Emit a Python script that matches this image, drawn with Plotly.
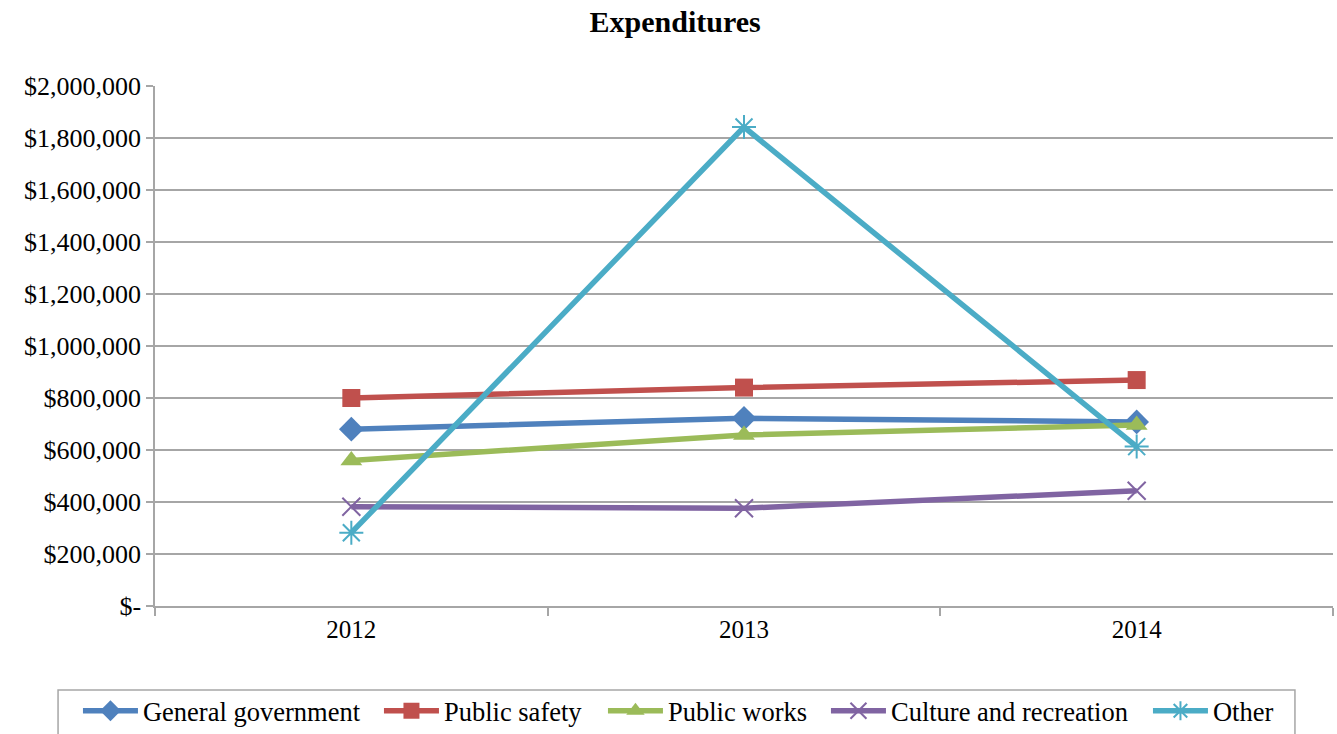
import plotly.graph_objects as go

# Fiscal years and expenditure by function (USD)
years = ["2012", "2013", "2014"]
general_government = [680000, 722000, 708000]
public_safety = [800000, 840000, 869000]
public_works = [560000, 658000, 696000]
culture_recreation = [382000, 376000, 443000]
other = [282000, 1842000, 613000]

y_ticks = [0, 200000, 400000, 600000, 800000, 1000000, 1200000,
           1400000, 1600000, 1800000, 2000000]
y_tick_text = ["$-"] + ["${:,}".format(v) for v in y_ticks[1:]]

# name, values, colour, marker symbol, marker size, legend text width
series = [
    ("General government", general_government, "#4F81BD", "diamond", 19, 231),
    ("Public safety", public_safety, "#C0504D", "square", 18, 154),
    ("Public works", public_works, "#9BBB59", "triangle-up", 19, 153),
    ("Culture and recreation", culture_recreation, "#8064A2", "x-thin-open", 18, 252),
    ("Other", other, "#4BACC6", "asterisk-open", 20, 64),
]

serif = "Liberation Serif"

fig = go.Figure()
for name, vals, color, symbol, size, lw in series:
    open_sym = symbol.endswith("open")
    fig.add_trace(go.Scatter(
        x=years, y=vals, name=name, mode="lines+markers",
        line=dict(color=color, width=5.5),
        marker=dict(symbol=symbol, size=size, color=color,
                    line=dict(color=color, width=2 if open_sym else 0)),
        legendwidth=lw,
    ))

# legend frame, open at the bottom edge of the page
fig.add_shape(type="rect", xref="paper", yref="paper",
              x0=-0.0823, x1=0.9677, y0=-0.1615, y1=-0.35,
              line=dict(color="#A6A6A6", width=1.5), fillcolor="rgba(0,0,0,0)",
              layer="below")

fig.update_layout(
    width=1337, height=734,
    margin=dict(l=155, r=4, t=86, b=128, autoexpand=False),
    paper_bgcolor="white", plot_bgcolor="white",
    title=dict(text="<b>Expenditures</b>", x=0.505, xref="container",
               y=0.985, yref="container", yanchor="top",
               font=dict(family=serif, size=30, color="black")),
    font=dict(family=serif, size=24, color="black"),
    showlegend=True,
    legend=dict(orientation="h", x=-0.0654, xanchor="left",
                y=-0.1558, yanchor="top",
                borderwidth=0, bgcolor="rgba(0,0,0,0)",
                font=dict(family=serif, size=26.5, color="black"),
                itemwidth=55, tracegroupgap=0),
)

fig.update_xaxes(
    type="category", range=[-0.5, 2.5],
    tickson="boundaries", ticks="outside", ticklen=8, tickcolor="#A6A6A6",
    tickwidth=1.5,
    showline=True, linecolor="#A6A6A6", linewidth=1.5,
    showgrid=False,
    tickfont=dict(family=serif, size=25, color="black"),
)
fig.update_yaxes(
    range=[0, 2000000], tickvals=y_ticks, ticktext=y_tick_text,
    ticks="outside", ticklen=7, tickcolor="#A6A6A6", tickwidth=1.5,
    showline=True, linecolor="#A6A6A6", linewidth=1.5,
    showgrid=True, gridcolor="#A6A6A6", gridwidth=1.5,
    zeroline=False,
    tickfont=dict(family=serif, size=26, color="black"),
)

fig.write_html("out.html")
